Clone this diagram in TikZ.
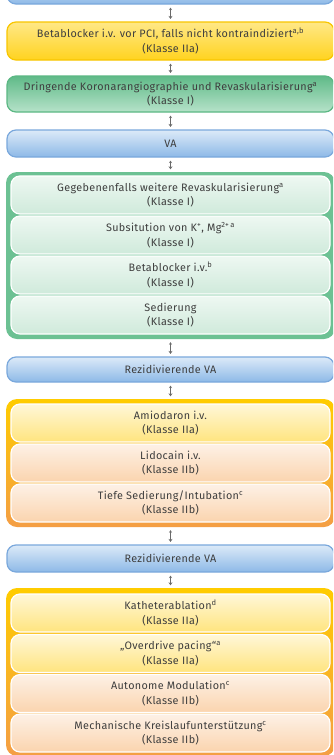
\documentclass[tikz,border=0pt]{standalone}
\usepackage{fontspec}
\setmainfont[LetterSpace=3]{Fira Sans}
\usetikzlibrary{arrows.meta,shadings}
\definecolor{txt}{HTML}{3E3E3E}
\definecolor{bluetop}{HTML}{DCEAF8}
\definecolor{bluebot}{HTML}{8DB9E7}
\definecolor{blueline}{HTML}{7AA8DC}
\definecolor{yeltop}{HTML}{FFE887}
\definecolor{yelbot}{HTML}{FFD31F}
\definecolor{yelline}{HTML}{F8C600}
\definecolor{grntop}{HTML}{5FBA88}
\definecolor{grnbot}{HTML}{B6E2C9}
\definecolor{grnline}{HTML}{5CB884}
\definecolor{grncont}{HTML}{6CC193}
\definecolor{ginTop}{HTML}{EEF8F2}
\definecolor{ginBot}{HTML}{CFEADB}
\definecolor{yinTop}{HTML}{FFF7D8}
\definecolor{yinBot}{HTML}{FFE47E}
\definecolor{oinTop}{HTML}{FDF1E6}
\definecolor{oinBot}{HTML}{FBD4AE}
\definecolor{ocTop}{HTML}{FFCC00}
\definecolor{ocBot}{HTML}{F49E45}
\definecolor{arr}{HTML}{6A6A6A}
\tikzset{
  every node/.style={font=\fontsize{10.8}{14.5}\selectfont, text=txt, align=center, inner sep=0pt},
  mainbox/.style={rounded corners=9pt, line width=1.2pt, minimum width=327pt},
  bluebox/.style={mainbox, draw=blueline, top color=bluetop, bottom color=bluebot},
  yelbox/.style={mainbox, draw=yelline, top color=yeltop, bottom color=yelbot},
  grnbox/.style={mainbox, draw=grnline, top color=grntop, bottom color=grnbot},
  contbox/.style={rounded corners=11pt, minimum width=329pt},
  inbox/.style={rounded corners=9pt, draw=white, line width=1.2pt, minimum width=319pt, minimum height=38pt},
  ingreen/.style={inbox, top color=ginTop, bottom color=ginBot},
  inyel/.style={inbox, top color=yinTop, bottom color=yinBot},
  inora/.style={inbox, top color=oinTop, bottom color=oinBot},
  conn/.style={draw=arr, line width=1pt, {Stealth[length=2.5pt,width=3pt]}-{Stealth[length=3pt,width=4pt]}, shorten <=3pt, shorten >=2.5pt}
}
\begin{document}
\begin{tikzpicture}[x=1pt,y=-1pt]
\useasboundingbox (0,0) rectangle (333,755);
\clip (0,0) rectangle (333,755);
\fill[white] (0,0) rectangle (333,755);
% top partial box
\node[bluebox, minimum height=24pt] (top) at (170.5,-8) {};
% Betablocker
\node[yelbox, minimum height=38pt] (b1) at (170.5,41) {Betablocker i.v. vor PCI, falls nicht kontraindiziert\textsuperscript{a,b}\\(Klasse IIa)};
\node[grnbox, minimum height=36pt] (b2) at (170.5,94) {Dringende Koronarangiographie und Revaskularisierung\textsuperscript{a}\\(Klasse I)};
\node[bluebox, minimum height=27pt] (va1) at (170.5,143.5) {VA};
% green container
\node[contbox, fill=grncont, minimum height=167pt] (gc) at (170.5,255.5) {};
\node[ingreen] (g1) at (170.5,195) {Gegebenenfalls weitere Revaskularisierung\textsuperscript{a}\\(Klasse I)};
\node[ingreen] (g2) at (170.5,235) {Subsitution von K\textsuperscript{+}, Mg\textsuperscript{2+\,a}\\(Klasse I)};
\node[ingreen] (g3) at (170.5,275) {Betablocker i.v.\textsuperscript{b}\\(Klasse I)};
\node[ingreen] (g4) at (170.5,315) {Sedierung\\(Klasse I)};
\node[bluebox, minimum height=25pt] (va2) at (170.5,369.5) {Rezidivierende VA};
% orange container 1
\node[contbox, top color=ocTop, bottom color=ocBot, minimum height=128pt] (oc) at (170.5,463) {};
\node[inyel] (o1) at (170.5,423) {Amiodaron i.v.\\(Klasse IIa)};
\node[inora] (o2) at (170.5,463) {Lidocain i.v.\\(Klasse IIb)};
\node[inora] (o3) at (170.5,503) {Tiefe Sedierung/Intubation\textsuperscript{c}\\(Klasse IIb)};
\node[bluebox, minimum height=27pt] (va3) at (170.5,558.5) {Rezidivierende VA};
% orange container 2
\node[contbox, top color=ocTop, bottom color=ocBot, minimum height=168pt] (lc) at (170.5,672) {};
\node[inyel] (l1) at (170.5,613) {Katheterablation\textsuperscript{d}\\(Klasse IIa)};
\node[inyel] (l2) at (170.5,653.5) {„Overdrive pacing“\textsuperscript{a}\\(Klasse IIa)};
\node[inora] (l3) at (170.5,693.5) {Autonome Modulation\textsuperscript{c}\\(Klasse IIb)};
\node[inora] (l4) at (170.5,733) {Mechanische Kreislaufunterstützung\textsuperscript{c}\\(Klasse IIb)};
% connectors
\draw[conn] (top) -- (b1);
\draw[conn] (b1) -- (b2);
\draw[conn] (b2) -- (va1);
\draw[conn] (va1) -- (gc);
\draw[conn] (gc) -- (va2);
\draw[conn] (va2) -- (oc);
\draw[conn] (oc) -- (va3);
\draw[conn] (va3) -- (lc);
\end{tikzpicture}
\end{document}
